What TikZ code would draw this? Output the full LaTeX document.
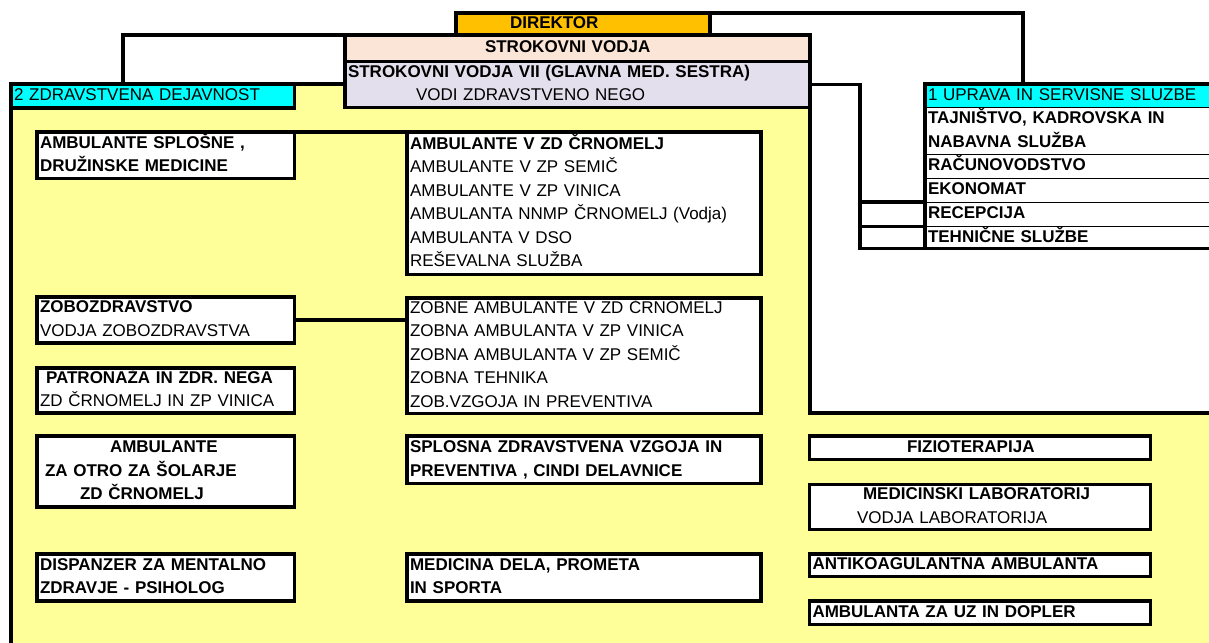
\documentclass[tikz,border=0pt]{standalone}
\usepackage{fontspec}
\setmainfont{Liberation Sans}
\newcommand\myfs{\fontsize{17}{23.5}\selectfont}
\newcommand\mystrut{\rule[-6pt]{0pt}{21pt}}
\definecolor{yellowbg}{RGB}{255,255,153}
\definecolor{cyanc}{RGB}{0,255,255}
\definecolor{orangec}{RGB}{255,192,0}
\definecolor{peach}{RGB}{251,229,214}
\definecolor{lavc}{RGB}{228,223,236}
\begin{document}
\begin{tikzpicture}[x=1pt,y=-1pt,
  bx/.style={draw, line width=3.5pt, fill=white, anchor=north west, outer sep=0pt, inner xsep=3pt, inner ysep=0pt, align=left, font=\myfs},
  bbx/.style={bx, font=\myfs\bfseries},
  row/.style={draw, line width=1pt, fill=white, anchor=north west, outer sep=0pt, inner xsep=3pt, inner ysep=0pt, align=left, font=\myfs\bfseries, minimum width=290pt, text width=284pt},
  conn/.style={line width=3.5pt},
  border/.style={line width=3.5pt}]
\useasboundingbox (0,0) rectangle (1209,642);
\clip (0,0) rectangle (1209,642);
% yellow department area
\fill[yellowbg] (11,84) -- (345,84) -- (345,107.5) -- (810,107.5) -- (810,413) -- (1215,413) -- (1215,650) -- (11,650) -- cycle;
\draw[border] (11,650) -- (11,84) -- (345,84);
\draw[border] (810,107.5) -- (810,413) -- (1215,413);
% top
\node[bbx, fill=orangec, minimum width=254pt, minimum height=22pt, text width=248pt] (dir) at (456,13) {\mystrut\hspace*{51pt}DIREKTOR};
\node[bbx, fill=peach, minimum width=465pt, minimum height=26.5pt, text width=459pt] (sv) at (345,35) {\mystrut\hspace*{137pt}STROKOVNI VODJA};
\node[bbx, fill=lavc, minimum width=465pt, minimum height=46pt, text width=459pt] (lav) at (345,61.5) {\mystrut STROKOVNI VODJA VII (GLAVNA MED. SESTRA)\\\mystrut\hspace*{68pt}\textmd{VODI ZDRAVSTVENO NEGO}};
\node[bx, fill=cyanc, minimum width=283.5pt, minimum height=24pt, text width=277.5pt] (zd) at (11,84) {\mystrut 2 ZDRAVSTVENA DEJAVNOST};
% uprava table
\node[row, fill=cyanc, font=\myfs, minimum height=23.5pt] (up) at (925,84) {\mystrut 1 UPRAVA IN SERVISNE SLUZBE};
\node[row, minimum height=46.5pt] (taj) at (925,107.5) {\mystrut TAJNIŠTVO, KADROVSKA IN\\\mystrut NABAVNA SLUŽBA};
\node[row, minimum height=24pt] (rac) at (925,154) {\mystrut RAČUNOVODSTVO};
\node[row, minimum height=24pt] (eko) at (925,178) {\mystrut EKONOMAT};
\node[row, minimum height=24.5pt] (rec) at (925,202) {\mystrut RECEPCIJA};
\node[row, minimum height=22pt] (teh) at (925,226.5) {\mystrut TEHNIČNE SLUŽBE};
\draw[border] (up.north east) -- (up.north west) -- (teh.south west) -- (teh.south east);
% left column
\node[bbx, minimum width=257.5pt, minimum height=46.5pt, text width=251.5pt] (ams) at (37,132) {\mystrut AMBULANTE SPLOŠNE ,\\\mystrut DRUŽINSKE MEDICINE};
\node[bbx, minimum width=257.5pt, minimum height=46pt, text width=251.5pt] (zob) at (37,297) {\mystrut ZOBOZDRAVSTVO\\\mystrut\textmd{VODJA ZOBOZDRAVSTVA}};
\node[bbx, minimum width=257.5pt, minimum height=45pt, text width=251.5pt] (pat) at (37,368) {\mystrut\hspace*{6pt}PATRONAŽA IN ZDR. NEGA\\\mystrut\textmd{ZD ČRNOMELJ IN ZP VINICA}};
\node[bbx, minimum width=257.5pt, minimum height=71pt, text width=251.5pt] (otr) at (37,436) {\mystrut\hspace*{70pt}AMBULANTE\\\mystrut\hspace*{5pt}ZA OTRO ZA ŠOLARJE\\\mystrut\hspace*{40pt}ZD ČRNOMELJ};
\node[bbx, minimum width=257.5pt, minimum height=47pt, text width=251.5pt] (dis) at (37,554) {\mystrut DISPANZER ZA MENTALNO\\\mystrut ZDRAVJE - PSIHOLOG};
% middle column
\node[bx, minimum width=354pt, minimum height=142.5pt, text width=348pt] (amb) at (407,132) {\mystrut\textbf{AMBULANTE V ZD ČRNOMELJ}\\\mystrut AMBULANTE V ZP SEMIČ\\\mystrut AMBULANTE V ZP VINICA\\\mystrut AMBULANTA NNMP ČRNOMELJ (Vodja)\\\mystrut AMBULANTA V DSO\\\mystrut REŠEVALNA SLUŽBA};
\node[bx, minimum width=354pt, minimum height=115.5pt, text width=348pt] (zbn) at (407,298) {\mystrut ZOBNE AMBULANTE V ZD ČRNOMELJ\\\mystrut ZOBNA AMBULANTA V ZP VINICA\\\mystrut ZOBNA AMBULANTA V ZP SEMIČ\\\mystrut ZOBNA TEHNIKA\\\mystrut ZOB.VZGOJA IN PREVENTIVA};
\node[bbx, minimum width=354pt, minimum height=47.5pt, text width=348pt] (spl) at (407,436) {\mystrut SPLOSNA ZDRAVSTVENA VZGOJA IN\\\mystrut PREVENTIVA , CINDI DELAVNICE};
\node[bbx, minimum width=354pt, minimum height=47pt, text width=348pt] (med) at (407,554) {\mystrut MEDICINA DELA, PROMETA\\\mystrut IN SPORTA};
% right column
\node[bbx, minimum width=341pt, minimum height=23.5pt, text width=335pt] (fiz) at (809.5,436) {\mystrut\hspace*{94.5pt}FIZIOTERAPIJA};
\node[bbx, minimum width=341pt, minimum height=45pt, text width=335pt] (lab) at (809.5,484.5) {\mystrut\hspace*{50.5pt}MEDICINSKI LABORATORIJ\\\mystrut\hspace*{44.5pt}\textmd{VODJA LABORATORIJA}};
\node[bbx, minimum width=341pt, minimum height=22.5pt, text width=335pt] (ant) at (809.5,554) {\mystrut ANTIKOAGULANTNA AMBULANTA};
\node[bbx, minimum width=341pt, minimum height=23.5pt, text width=335pt] (uz) at (809.5,601) {\mystrut AMBULANTA ZA UZ IN DOPLER};
% connectors
\coordinate (c1) at (1023,84);
\draw[conn] (dir.north east) -| (c1);
\coordinate (c3) at (123,84);
\draw[conn] (sv.north west) -| (c3);
\coordinate (j) at (860,84.5);
\draw[conn] (lav.east) -- (j) |- (teh.south west);
\draw[conn] (j |- rec.north west) -- (rec.north west);
\draw[conn] (j |- teh.north west) -- (teh.north west);
\draw[conn] (ams.north east) -- (amb.north west);
\draw[conn] (zob.east) -- (zob.east -| zbn.west);
\end{tikzpicture}
\end{document}
